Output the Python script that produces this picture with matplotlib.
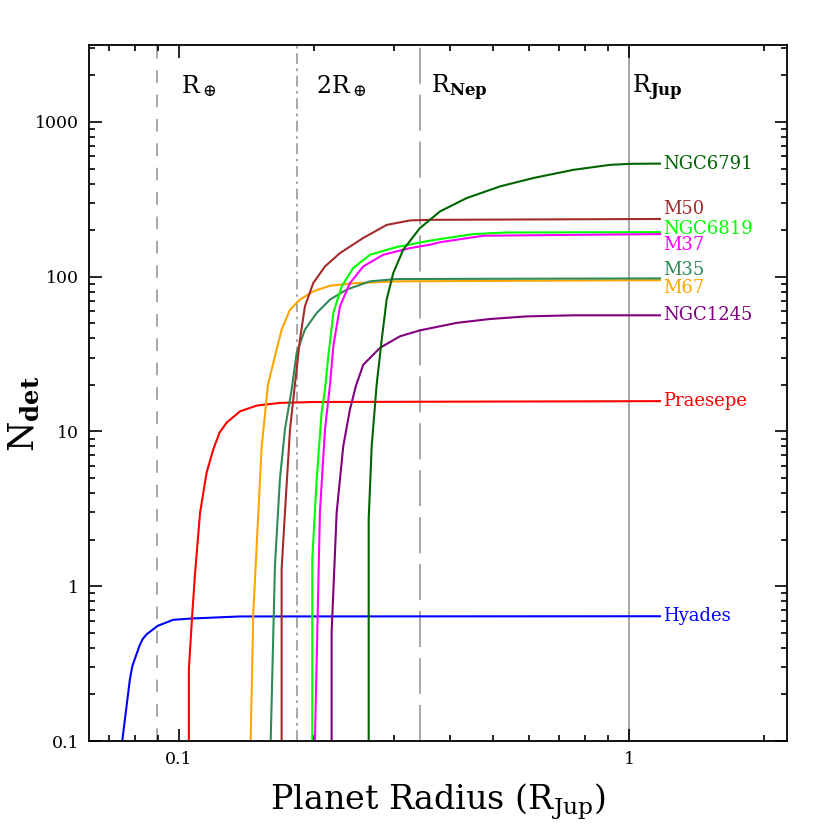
import numpy as np
import matplotlib
matplotlib.use('Agg')
import matplotlib.pyplot as plt
from matplotlib.ticker import FixedLocator, NullFormatter

plt.rcParams['font.family'] = ['DejaVu Serif']
plt.rcParams['mathtext.fontset'] = 'dejavuserif'

# Кривые N_det(R) для каждого скопления
hyades_r = [0.0748, 0.0778, 0.0788, 0.0817, 0.0830, 0.0848, 0.0897, 0.0971, 0.1067, 0.1367, 1.172]
hyades_n = [0.1, 0.251, 0.306, 0.412, 0.455, 0.490, 0.555, 0.607, 0.619, 0.638, 0.640]

praesepe_r = [0.1052, 0.1052, 0.1070, 0.1086, 0.1114, 0.1152, 0.1192, 0.1230, 0.1276, 0.1367, 0.1489, 0.1676, 0.1988, 1.172]
praesepe_n = [0.1, 0.292, 0.65, 1.22, 2.98, 5.42, 7.66, 9.8, 11.4, 13.5, 14.7, 15.3, 15.5, 15.7]

m67_r = [0.1443, 0.1463, 0.1527, 0.1577, 0.1634, 0.1691, 0.1765, 0.1857, 0.1988, 0.2166, 0.2482, 0.3046, 1.172]
m67_n = [0.1, 0.68, 8.0, 20.1, 30.6, 45.5, 61.2, 71.1, 80.4, 87.5, 91.0, 93.3, 95.0]

m35_r = [0.1599, 0.1634, 0.1676, 0.1720, 0.1780, 0.1826, 0.1905, 0.2023, 0.2166, 0.2358, 0.2657, 0.3046, 1.172]
m35_n = [0.1, 1.35, 4.90, 10.3, 18.7, 32.2, 45.5, 58.3, 71.1, 82.5, 93.3, 96.6, 97.5]

m50_r = [0.1691, 0.1691, 0.1720, 0.1765, 0.1810, 0.1857, 0.1905, 0.1988, 0.2111, 0.2279, 0.2568, 0.2894, 0.3261, 0.3613, 1.172]
m50_n = [0.1, 1.29, 3.0, 10.3, 20.1, 39.2, 64.3, 91.0, 116.5, 142, 178, 216, 231, 233, 236]

ngc6819_r = [0.1978, 0.1978, 0.2023, 0.2075, 0.2111, 0.2147, 0.2203, 0.2299, 0.2439, 0.2657, 0.3046, 0.3613, 0.4508, 0.5349, 1.172]
ngc6819_n = [0.1, 1.49, 4.90, 13.3, 18.7, 30.6, 58.3, 86.6, 113.8, 138.6, 155.5, 171, 188.5, 193, 194]

m37_r = [0.2005, 0.2057, 0.2111, 0.2166, 0.2203, 0.2279, 0.2399, 0.2568, 0.2844, 0.3261, 0.3613, 0.3802, 0.4745, 1.172]
m37_n = [0.1, 3.0, 10.3, 20.1, 35.5, 64.3, 91.0, 116.5, 138.6, 153, 161, 167, 184, 188.5]

ngc1245_r = [0.2184, 0.2184, 0.2241, 0.2318, 0.2399, 0.2474, 0.2568, 0.2797, 0.3098, 0.3431, 0.4141, 0.4911, 0.5924, 0.7517, 1.172]
ngc1245_n = [0.1, 0.505, 3.0, 8.04, 13.9, 19.8, 27.0, 34.7, 41.2, 45.0, 50.3, 53.3, 55.4, 56.3, 56.3]

ngc6791_r = [0.2640, 0.2640, 0.2681, 0.2750, 0.2822, 0.2894, 0.2994, 0.3150, 0.3431, 0.3802, 0.4358, 0.5168, 0.6129, 0.7517, 0.9074, 1.005, 1.172]
ngc6791_n = [0.1, 2.70, 8.04, 20.1, 39.2, 71.1, 105.6, 149.4, 206, 264, 322, 383, 434, 490, 528, 536, 538]

clusters = ['Hyades', 'Praesepe', 'M67', 'M35', 'M50', 'NGC6819', 'M37', 'NGC1245', 'NGC6791']
colors = ['blue', 'red', 'orange', 'seagreen', 'brown', 'lime', 'magenta', 'purple', 'darkgreen']
curves = [(hyades_r, hyades_n), (praesepe_r, praesepe_n), (m67_r, m67_n), (m35_r, m35_n),
          (m50_r, m50_n), (ngc6819_r, ngc6819_n), (m37_r, m37_n), (ngc1245_r, ngc1245_n),
          (ngc6791_r, ngc6791_n)]
# положение подписей справа (по оси y)
label_n = [0.64, 15.8, 84, 111, 273, 204, 160, 56.9, 538]

# Характерные радиусы (в R_Jup)
ref_r = [0.0895, 0.183, 0.343, 1.0]
ref_text = [r'R$_\oplus$', r'2R$_\oplus$', r'R$_{\bf Nep}$', r'R$_{\bf Jup}$']
ref_text_x = [0.101, 0.2015, 0.364, 1.017]
ref_styles = [(0, (7, 6.5)), (0, (6, 2.5, 1.5, 2.5)), (0, (20, 6)), '-']

fig = plt.figure(figsize=(8.3, 8.3), dpi=100)
ax = fig.add_axes([0.1072, 0.1072, 0.841, 0.8386])

for r, ls, t, tx in zip(ref_r, ref_styles, ref_text, ref_text_x):
    ax.axvline(r, color='#a0a0a0', lw=1.3, linestyle=ls, zorder=1)
    ax.text(tx, 1540, t, fontsize=17, ha='left', va='baseline')

for (r, n), c, name, ly in zip(curves, colors, clusters, label_n):
    ax.plot(r, n, color=c, lw=1.5, zorder=2)
    ax.text(1.19, ly, name, color=c, fontsize=13, ha='left', va='center')

ax.set_xscale('log')
ax.set_yscale('log')
ax.set_xlim(0.0631, 2.245)
ax.set_ylim(0.1, 3141)

ax.xaxis.set_major_locator(FixedLocator([0.1, 1]))
ax.set_xticklabels(['0.1', '1'])
ax.xaxis.set_minor_locator(FixedLocator([0.07, 0.08, 0.09, 0.2, 0.3, 0.4, 0.5, 0.6, 0.7, 0.8, 0.9, 2]))
ax.xaxis.set_minor_formatter(NullFormatter())
ax.yaxis.set_major_locator(FixedLocator([0.1, 1, 10, 100, 1000]))
ax.set_yticklabels(['0.1', '1', '10', '100', '1000'])

ax.tick_params(which='both', direction='in', top=True, right=True, width=1.2, labelsize=12.5, pad=7)
ax.tick_params(which='major', length=9)
ax.tick_params(which='minor', length=4.5)
for s in ax.spines.values():
    s.set_linewidth(1.3)

ax.set_xlabel(r'Planet Radius (R$_{\rm Jup}$)', fontsize=24, labelpad=10)
ax.set_ylabel(r'$\mathrm{N}_{\mathbf{det}}$', fontsize=25, ha='center', va='center')
ax.yaxis.set_label_coords(-0.092, 0.47)

plt.savefig('out.png', dpi=100)
